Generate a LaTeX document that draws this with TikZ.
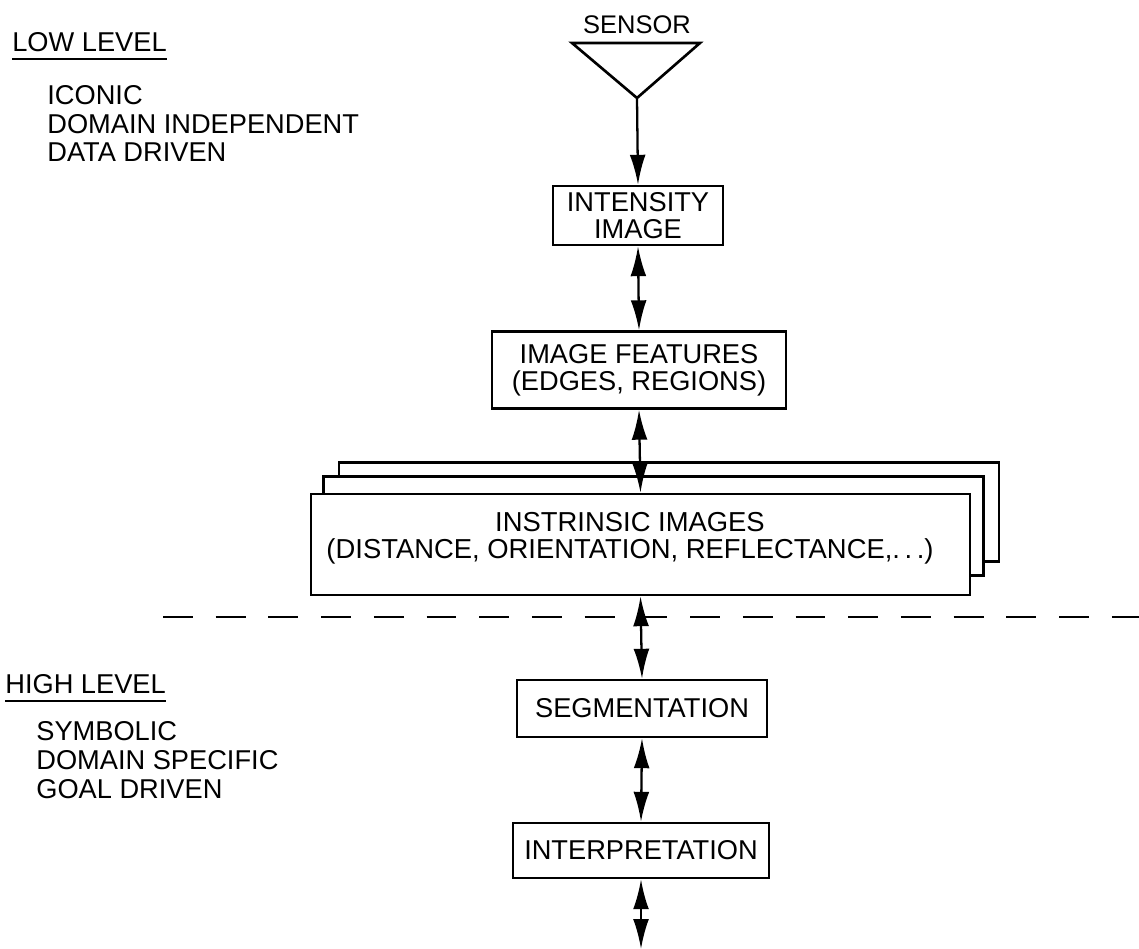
\documentclass[tikz,border=0pt]{standalone}
\usepackage{fontspec}
\setmainfont{Liberation Sans}
\usetikzlibrary{arrows.meta}
\begin{document}
\begin{tikzpicture}[x=0.02cm,y=-0.02cm,
  every node/.style={font=\fontsize{15.5}{15.5}\selectfont, inner sep=0pt},
  box/.style={draw, line width=1.5pt, align=center, fill=white},
  layer/.style={draw, line width=1.5pt, fill=white, minimum width=13.2cm, minimum height=1.98cm},
  side/.style={anchor=west, align=left, font=\fontsize{15.5}{16.4}\selectfont},
  uline/.style={line width=1.3pt},
  tip/.style={line width=1.3pt, -{Latex[length=17pt,width=9pt]}},
  dbl/.style={line width=1.3pt, {Latex[length=17pt,width=9pt]}-{Latex[length=17pt,width=9pt]}},
  sep/.style={line width=1.2pt, dash pattern=on 17pt off 13pt}]
\useasboundingbox (0,0) rectangle (1139,949);

% left column: level descriptions
\node[anchor=west] (low) at (12,42) {LOW LEVEL};
\draw[uline] ([yshift=-4pt]low.south west) -- ([yshift=-4pt]low.south east);
\node[side] (lowprops) at (47,123.5) {ICONIC\\DOMAIN INDEPENDENT\\DATA DRIVEN};

\node[anchor=west] (high) at (5,684) {HIGH LEVEL};
\draw[uline] ([yshift=-4pt]high.south west) -- ([yshift=-4pt]high.south east);
\node[side] (highprops) at (36,760) {SYMBOLIC\\DOMAIN SPECIFIC\\GOAL DRIVEN};

% sensor symbol
\node[font=\fontsize{14.5}{14.5}\selectfont] (sensor) at (637,25) {SENSOR};
\coordinate (apex) at (637,98);
\draw[line width=1.5pt, line join=miter] (572,43) -- (700,43) -- (apex) -- cycle;

% processing stages
\node[box, minimum width=3.4cm, minimum height=1.18cm] (intensity) at (638,215.5) {INTENSITY\\IMAGE};
\node[box, minimum width=5.88cm, minimum height=1.54cm] (features) at (639,370) {IMAGE FEATURES\\(EDGES, REGIONS)};

% stacked intrinsic images
\node[layer] (back) at (669,512) {};
\node[layer] (middle) at (653.5,526) {};
\node[layer, minimum width=13.18cm, minimum height=2.02cm] (intrinsic) at (640.5,544.5) {};
\node[align=center, font=\fontsize{15.6}{15.5}\selectfont] (intrinsictext) at (630,538) {INSTRINSIC IMAGES\\(DISTANCE, ORIENTATION, REFLECTANCE,.\,.\,.)};

\node[box, minimum width=5.0cm, minimum height=1.14cm] (segmentation) at (642,708.5) {SEGMENTATION};
\node[box, minimum width=5.12cm, minimum height=1.1cm] (interpretation) at (641,850.5) {INTERPRETATION};
\coordinate (out) at (641,949);

% separator between low and high level
\coordinate (sepl) at (163,617);
\coordinate (sepr) at (1139,617);
\draw[sep] (sepl) -- (sepr);

% connectors
\draw[tip] (apex) -- (intensity.north);
\draw[dbl] (intensity.south) -- (features.north);
\draw[dbl] (features.south) -- (intrinsic.north);
\draw[dbl] (intrinsic.south) -- (segmentation.north);
\draw[dbl] (segmentation.south) -- (interpretation.north);
\draw[dbl] (interpretation.south) -- (out);
\end{tikzpicture}
\end{document}
